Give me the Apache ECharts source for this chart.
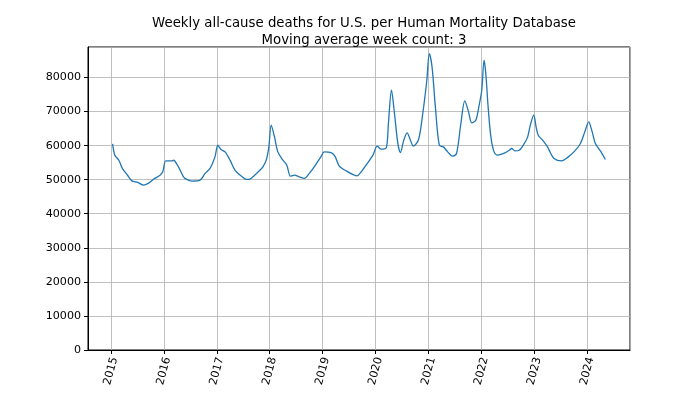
<!DOCTYPE html>
<html>
<head>
<meta charset="utf-8">
<script src="https://cdn.jsdelivr.net/npm/echarts@6/dist/echarts.min.js"></script>
<style>html,body{margin:0;padding:0;background:#fff}#c{width:700px;height:394px}</style>
</head>
<body>
<div id="c"></div>
<script>
var titleLines = ['Weekly all-cause deaths for U.S. per Human Mortality Database', 'Moving average week count: 3'];
var yearTicks = ['2015','2016','2017','2018','2019','2020','2021','2022','2023','2024'];
var yTicks = [0,10000,20000,30000,40000,50000,60000,70000,80000];
var dates = [
 '2015-01-13','2015-01-28','2015-02-25','2015-03-21','2015-04-26','2015-05-26','2015-07-06','2015-08-14','2015-09-15','2015-10-20','2015-12-06','2015-12-25',
 '2016-01-15','2016-02-25','2016-03-08','2016-04-11','2016-05-16','2016-06-07','2016-07-12','2016-09-07','2016-10-12','2016-11-15','2016-12-19',
 '2017-01-08','2017-01-30','2017-02-27','2017-04-02','2017-05-06','2017-06-20','2017-07-25','2017-08-16','2017-09-19','2017-10-30','2017-11-15','2017-12-08','2017-12-26',
 '2018-01-11','2018-02-03','2018-02-26','2018-04-02','2018-04-29','2018-05-24','2018-06-20','2018-07-24','2018-08-28','2018-10-01','2018-11-04','2018-12-20',
 '2019-01-12','2019-02-28','2019-03-27','2019-04-26','2019-06-12','2019-08-27','2019-09-24','2019-10-28','2019-12-14',
 '2020-01-13','2020-02-09','2020-03-15','2020-03-30','2020-04-20','2020-05-11','2020-06-03','2020-06-21','2020-07-14','2020-08-06','2020-08-29','2020-09-18','2020-10-24','2020-11-22','2020-12-20',
 '2021-01-06','2021-01-25','2021-02-17','2021-03-16','2021-04-13','2021-05-13','2021-06-16','2021-07-13','2021-08-12','2021-09-08','2021-10-04','2021-10-26','2021-11-23','2021-12-16',
 '2022-01-03','2022-01-19','2022-01-31','2022-02-16','2022-03-07','2022-03-29','2022-04-22','2022-05-15','2022-06-12','2022-07-12','2022-07-28','2022-08-20','2022-09-19','2022-10-24','2022-11-16','2022-12-04','2022-12-28',
 '2023-01-13','2023-01-28','2023-02-27','2023-04-02','2023-04-13','2023-05-17','2023-07-09','2023-08-17','2023-10-01','2023-11-15','2023-12-15',
 '2024-01-11','2024-02-04','2024-02-26','2024-04-01','2024-05-05'
];
var deaths = [
 60500,57200,55700,53300,51300,49650,49200,48400,48900,50070,51330,52300,
 55500,55500,55700,53760,50830,50070,49570,49860,51830,53300,56700,
 60100,58860,58160,55730,52800,51030,50070,50160,51330,53000,53760,55730,59630,
 66000,62560,58160,55730,54260,51030,51330,50830,50360,51830,53760,56700,
 58160,57960,56900,53970,52590,51120,52300,54260,57200,
 59830,58950,59330,66490,76260,69420,60630,57960,61600,63740,61600,59830,61800,69420,79190,
 87020,83110,71360,60130,59630,58160,56900,57690,66490,73120,69890,66670,67460,71860,
 76260,85060,81150,71360,62560,58160,57200,57400,57870,58660,59160,58460,58660,60630,62560,66000,68930,
 65490,63060,61600,59630,58660,56220,55530,56480,58160,60630,64030,
 66960,64030,60630,58460,55930
];
var seriesData = dates.map(function(d,i){ return [d, deaths[i]]; });
var chart = echarts.init(document.getElementById('c'), null, {renderer:'canvas'});
var FONT = 'DejaVu Sans';
chart.setOption({
  animation:false,
  backgroundColor:'#fff',
  title:{
    text: titleLines.join('\n'),
    left: 359, top: 10, textAlign:'center',
    textStyle:{fontFamily:FONT, fontSize:13.3, fontWeight:'normal', color:'#000', lineHeight:17}
  },
  grid:{left:88, right:70, top:47, bottom:44, show:true, borderColor:'#000', borderWidth:1, containLabel:false},
  xAxis:{
    type:'time',
    min:'2014-07-27', max:'2024-10-22',
    minInterval: 365*24*3600*1000, maxInterval: 366*24*3600*1000,
    axisLine:{show:true, lineStyle:{color:'#000', width:1}},
    axisTick:{show:true, length:4, lineStyle:{color:'#000'}},
    splitLine:{show:true, lineStyle:{color:'#b0b0b0', width:0.8}},
    axisLabel:{
      rotate:75, align:'center', verticalAlign:'middle',
      color:'#000', fontFamily:FONT, fontSize:11.1, margin:21,
      showMinLabel:false, showMaxLabel:false,
      formatter:function(v){ var y = String(new Date(v).getFullYear()); return yearTicks.indexOf(y) >= 0 ? y : ''; }
    }
  },
  yAxis:{
    type:'value', min:0, max:88950, interval:10000,
    axisLine:{show:true, lineStyle:{color:'#000', width:1}},
    axisTick:{show:true, length:4, lineStyle:{color:'#000'}},
    splitLine:{show:true, lineStyle:{color:'#b0b0b0', width:0.8}},
    axisLabel:{color:'#000', fontFamily:FONT, fontSize:11.1, margin:7, showMaxLabel:false,
      formatter:function(v){ return yTicks.indexOf(v) >= 0 ? String(v) : ''; }}
  },
  series:[{
    type:'line', data:seriesData, showSymbol:false, symbol:'none', smooth:0.3,
    lineStyle:{color:'#1f77b4', width:1.3}
  }]
});
</script>
</body>
</html>
